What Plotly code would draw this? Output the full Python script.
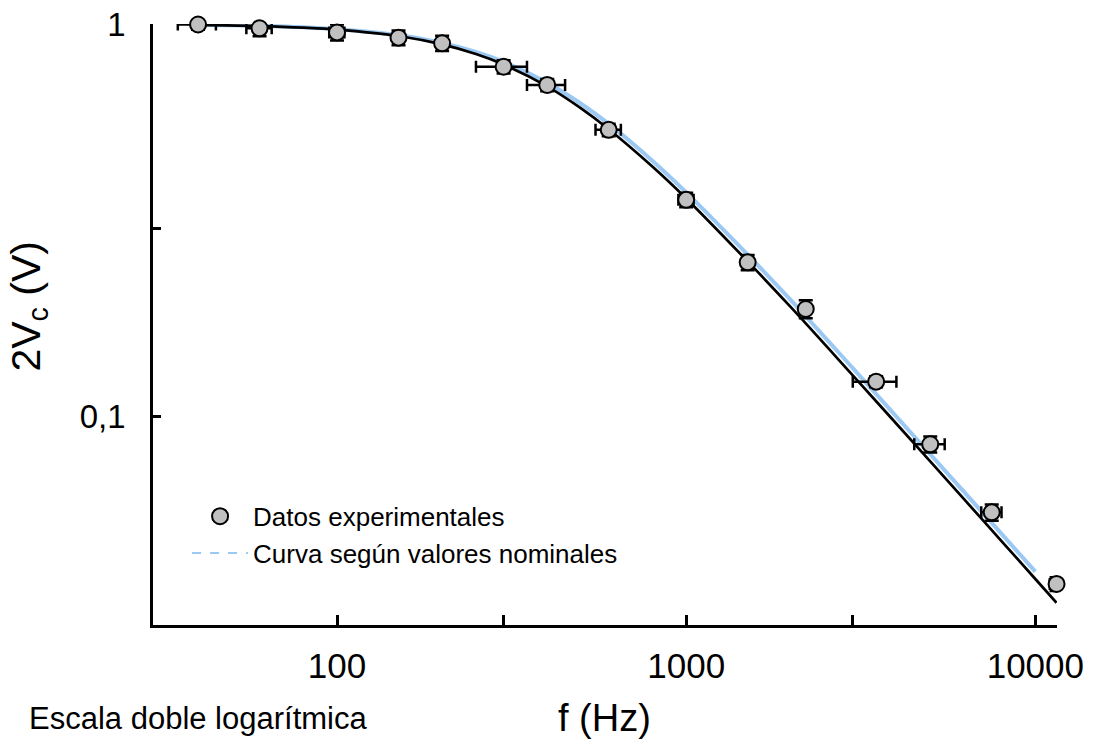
import plotly.graph_objects as go

freq = [40, 60, 100, 150, 200, 300, 400, 600, 1000, 1500, 2200, 3500, 5000, 7500, 11500]
volt = [0.997, 0.975, 0.952, 0.923, 0.893, 0.778, 0.699, 0.537, 0.356, 0.2466, 0.1875, 0.1224, 0.0847, 0.0568, 0.0373]
freq_err = [5, 5, 5, 5, 5, 50, 50, 50, 50, 50, 50, 500, 500, 500, 500]
volt_err = [0.03, 0.045, 0.045, 0.04, 0.04, 0.03, 0.025, 0.02, 0.015, 0.011, 0.01, 0.004, 0.004, 0.0027, 0.0015]

# Fitted curve (black)
fit_f = [40, 60, 80, 100, 150, 200, 250, 300, 400, 500, 600, 800, 1000, 1500, 2000, 3000, 5000, 7000, 10000, 11500]
fit_v = [0.995, 0.988, 0.979, 0.968, 0.932, 0.887, 0.838, 0.788, 0.693, 0.609, 0.539, 0.433, 0.359, 0.248, 0.189, 0.127, 0.0766, 0.0548, 0.0384, 0.0334]

# Nominal-values curve (light blue)
nom_f = [40, 60, 80, 100, 150, 200, 250, 300, 400, 500, 600, 800, 1000, 1500, 2000, 3000, 5000, 7000, 10000]
nom_v = [0.995, 0.989, 0.981, 0.970, 0.937, 0.895, 0.849, 0.801, 0.708, 0.626, 0.556, 0.448, 0.372, 0.258, 0.197, 0.1325, 0.0799, 0.0572, 0.0401]

x_tickvals = [100, 300, 1000, 3000, 10000]
x_ticktext = ["100", "", "1000", "", "10000"]
y_tickvals = [0.1, 0.3, 1]
y_ticktext = ["0,1", "", "1"]

FONT = "Liberation Sans, Arial, sans-serif"
BLUE = "#9BC9F3"

fig = go.Figure()

fig.add_trace(go.Scatter(
    x=nom_f, y=nom_v, mode="lines", line=dict(color=BLUE, width=4, shape="spline"),
    showlegend=False, hoverinfo="skip"))

fig.add_trace(go.Scatter(
    x=fit_f, y=fit_v, mode="lines", line=dict(color="black", width=2.7, shape="spline"),
    showlegend=False, hoverinfo="skip"))

fig.add_trace(go.Scatter(
    x=freq, y=volt, mode="markers", name="Datos experimentales", legendgroup="a",
    marker=dict(size=16, color="#C0C0C0", line=dict(color="black", width=2)),
    error_x=dict(type="data", array=freq_err, color="black", thickness=2.5, width=6),
    error_y=dict(type="data", array=volt_err, color="black", thickness=2.5, width=7),
    cliponaxis=False))

fig.add_trace(go.Scatter(
    x=[None], y=[None], mode="lines", name="Curva según valores nominales", legendgroup="b",
    line=dict(color=BLUE, width=2, dash="dash")))

fig.update_layout(
    width=1095, height=749,
    margin=dict(l=153, r=38, t=24, b=124, autoexpand=False),
    paper_bgcolor="white", plot_bgcolor="white",
    font=dict(family=FONT, color="black"),
    showlegend=True,
    legend=dict(x=0.0377, y=0.220, xanchor="left", yanchor="top",
                bgcolor="rgba(0,0,0,0)", font=dict(size=26, family=FONT),
                tracegroupgap=0, itemwidth=56),
    xaxis=dict(type="log", range=[1.473, 4.062], showgrid=False, zeroline=False,
               automargin=False,
               showline=True, linecolor="black", linewidth=2.5,
               ticks="inside", ticklen=10, tickwidth=2.5, tickcolor="black",
               tickvals=x_tickvals, ticktext=x_ticktext,
               tickfont=dict(size=35, family=FONT), ticklabelstandoff=8),
    yaxis=dict(type="log", range=[-1.533, 0], showgrid=False, zeroline=False,
               automargin=False,
               showline=True, linecolor="black", linewidth=2.5,
               ticks="inside", ticklen=8, tickwidth=2.5, tickcolor="black",
               tickvals=y_tickvals, ticktext=y_ticktext,
               tickfont=dict(size=33, family=FONT), ticklabelstandoff=18),
    annotations=[
        dict(text="f (Hz)", xref="paper", yref="paper", x=0.499, y=-0.155,
             xanchor="center", yanchor="middle", showarrow=False,
             font=dict(size=38, family=FONT)),
        dict(text="Escala doble logarítmica", xref="paper", yref="paper", x=-0.1397, y=-0.155,
             xanchor="left", yanchor="middle", showarrow=False,
             font=dict(size=31, family=FONT)),
        dict(text="2V<sub>c</sub> (V)", xref="paper", yref="paper", x=-0.137, y=0.53,
             xanchor="center", yanchor="middle", showarrow=False, textangle=-90,
             font=dict(size=41, family=FONT)),
    ],
)

fig.write_html("out.html")
